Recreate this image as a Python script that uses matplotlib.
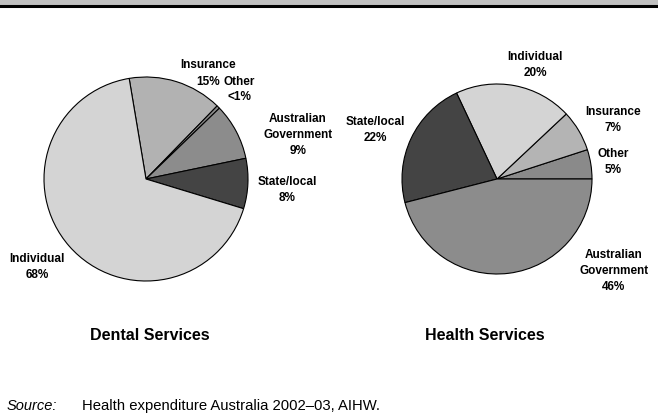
import matplotlib
matplotlib.use("Agg")
import matplotlib.pyplot as plt

plt.rcParams['font.family'] = ['Liberation Sans', 'DejaVu Sans']

# dental services, clockwise from the top
dental_labels = ['Insurance', 'Other', 'Australian\nGovernment', 'State/local', 'Individual']
dental_values = [15, 0.5, 9, 8, 68]
dental_pct = ['15%', '<1%', '9%', '8%', '68%']
dental_colors = ['#b2b2b2', '#8c8c8c', '#8c8c8c', '#444444', '#d4d4d4']

# health services, counter-clockwise from 3 o'clock
health_labels = ['Other', 'Insurance', 'Individual', 'State/local', 'Australian\nGovernment']
health_values = [5, 7, 20, 22, 46]
health_pct = ['5%', '7%', '20%', '22%', '46%']
health_colors = ['#8a8a8a', '#b4b4b4', '#d4d4d4', '#444444', '#8c8c8c']

W, H = 658, 419
fig = plt.figure(figsize=(W / 100, H / 100), dpi=100)


def px_axes(left, top, w, h):
    return fig.add_axes([left / W, 1 - (top + h) / H, w / W, h / H])


def px_text(x, y, s, **kw):
    fig.text(x / W, 1 - y / H, s, **kw)


# header band + rule
band = px_axes(0, 0, W, 6)
band.set_facecolor('#c0c0c0')
band.set_xticks([])
band.set_yticks([])
for sp in band.spines.values():
    sp.set_visible(False)
fig.add_artist(plt.Line2D([0, 1], [1 - 6.5 / H, 1 - 6.5 / H], color='black', lw=2.2))

wedge_style = dict(edgecolor='black', linewidth=0.8)

ax1 = px_axes(44, 77, 204, 204)
ax1.pie(dental_values, colors=dental_colors, startangle=99.5, counterclock=False,
        wedgeprops=wedge_style)
ax1.set_xlim(-1, 1)
ax1.set_ylim(-1, 1)
ax1.set_aspect('equal')

ax2 = px_axes(402, 84, 190, 190)
ax2.pie(health_values, colors=health_colors, startangle=0, counterclock=True,
        wedgeprops=wedge_style)
ax2.set_xlim(-1, 1)
ax2.set_ylim(-1, 1)
ax2.set_aspect('equal')

lab = dict(fontsize=8.5, fontweight='bold', ha='center', va='center', linespacing=1.45)

# dental labels
px_text(208, 65, 'Insurance', **lab)
px_text(208, 82, dental_pct[0], **lab)
px_text(239, 82, 'Other', **lab)
px_text(239, 97, dental_pct[1], **lab)
px_text(298, 135, dental_labels[2] + '\n' + dental_pct[2], **lab)
px_text(287, 190, dental_labels[3] + '\n' + dental_pct[3], **lab)
px_text(37, 267, dental_labels[4] + '\n' + dental_pct[4], **lab)

# health labels
px_text(613, 162, health_labels[0] + '\n' + health_pct[0], **lab)
px_text(613, 120, health_labels[1] + '\n' + health_pct[1], **lab)
px_text(535, 65, health_labels[2] + '\n' + health_pct[2], **lab)
px_text(375, 130, health_labels[3] + '\n' + health_pct[3], **lab)
px_text(614, 271, health_labels[4] + '\n' + health_pct[4], **lab)

px_text(150, 335, 'Dental Services', fontsize=11.5, fontweight='bold', ha='center', va='center')
px_text(485, 335, 'Health Services', fontsize=11.5, fontweight='bold', ha='center', va='center')

px_text(7, 406, 'Source:', fontsize=10.5, fontstyle='italic', ha='left', va='center')
px_text(82, 406, 'Health expenditure Australia 2002\u201303, AIHW.', fontsize=10.7,
        ha='left', va='center')

fig.savefig('out.png', dpi=100, facecolor='white')
